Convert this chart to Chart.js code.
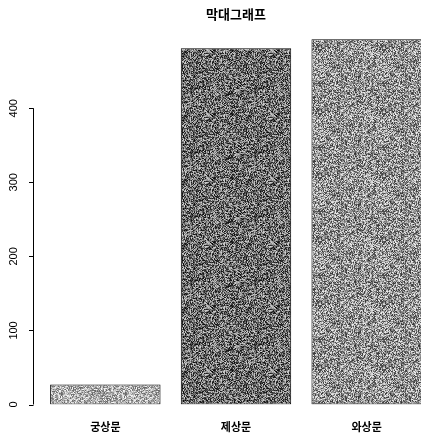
<!DOCTYPE html>
<html>
<head>
<meta charset="utf-8">
<script src="https://cdn.jsdelivr.net/npm/chart.js@4/dist/chart.umd.min.js"></script>
<style>
  html, body { margin: 0; padding: 0; background: #fff; overflow: hidden; }
  #wrap { width: 440px; height: 439px; }
</style>
</head>
<body>
<div id="wrap"><canvas id="bars" width="440" height="439"></canvas></div>
<script>
// data
const titleText = '막대그래프';
const categories = ['궁상문', '제상문', '와상문'];
const counts = [27, 481, 493];
const yTicks = [0, 100, 200, 300, 400];

// grey noise textures, like the scanned R barplot fills
function makeTexture(base, spread, seed) {
  const c = document.createElement('canvas');
  c.width = 64; c.height = 64;
  const g = c.getContext('2d');
  const img = g.createImageData(64, 64);
  let s = seed;
  const rnd = () => { s = (s * 1103515245 + 12345) % 2147483648; return s / 2147483648; };
  for (let i = 0; i < 64 * 64; i++) {
    let v = base + (rnd() - 0.5) * 2 * spread;
    v = Math.max(0, Math.min(255, Math.round(v)));
    img.data[i * 4] = v; img.data[i * 4 + 1] = v; img.data[i * 4 + 2] = v; img.data[i * 4 + 3] = 255;
  }
  g.putImageData(img, 0, 0);
  return g.createPattern(c, 'repeat');
}

const ctx = document.getElementById('bars').getContext('2d');
const fills = [makeTexture(175, 75, 7), makeTexture(110, 100, 13), makeTexture(145, 95, 29)];

// R style y axis: line only from 0 to 400, rotated labels
const rAxis = {
  id: 'rAxis',
  afterDraw(chart) {
    const y = chart.scales.y;
    const c = chart.ctx;
    const x0 = 33;
    c.save();
    c.strokeStyle = '#000';
    c.lineWidth = 1;
    c.beginPath();
    c.moveTo(x0 + 0.5, y.getPixelForValue(yTicks[0]));
    c.lineTo(x0 + 0.5, y.getPixelForValue(yTicks[yTicks.length - 1]));
    yTicks.forEach(v => {
      const py = Math.round(y.getPixelForValue(v)) + 0.5;
      c.moveTo(x0 + 0.5, py);
      c.lineTo(x0 - 4, py);
    });
    c.stroke();
    c.fillStyle = '#000';
    c.font = '11px "Liberation Sans", Arial, sans-serif';
    c.textAlign = 'center';
    c.textBaseline = 'middle';
    yTicks.forEach(v => {
      c.save();
      c.translate(14, y.getPixelForValue(v));
      c.rotate(-Math.PI / 2);
      c.fillText(String(v), 0, 0);
      c.restore();
    });
    c.restore();
  }
};

new Chart(ctx, {
  type: 'bar',
  data: {
    labels: categories,
    datasets: [{
      data: counts,
      backgroundColor: fills,
      borderColor: '#000',
      borderWidth: 1,
      borderSkipped: false,
      barPercentage: 0.845,
      categoryPercentage: 1
    }]
  },
  options: {
    responsive: false,
    animation: false,
    layout: { padding: { left: 40, right: 8, top: 0, bottom: 5 } },
    plugins: {
      legend: { display: false },
      tooltip: { enabled: false },
      title: {
        display: true,
        text: titleText,
        color: '#000',
        font: { family: '"Noto Sans CJK KR", sans-serif', size: 13, weight: 'bold' },
        padding: { top: 6, bottom: 0 }
      }
    },
    scales: {
      x: {
        grid: { display: false, drawTicks: false },
        border: { display: false },
        ticks: {
          color: '#000',
          padding: 16,
          maxRotation: 0,
          font: { family: '"Noto Sans CJK KR", sans-serif', size: 11, weight: 'bold' }
        },
        afterFit(scale) { scale.height = 29.5; }
      },
      y: {
        display: false,
        min: 0,
        max: 517
      }
    }
  },
  plugins: [rAxis]
});
</script>
</body>
</html>
